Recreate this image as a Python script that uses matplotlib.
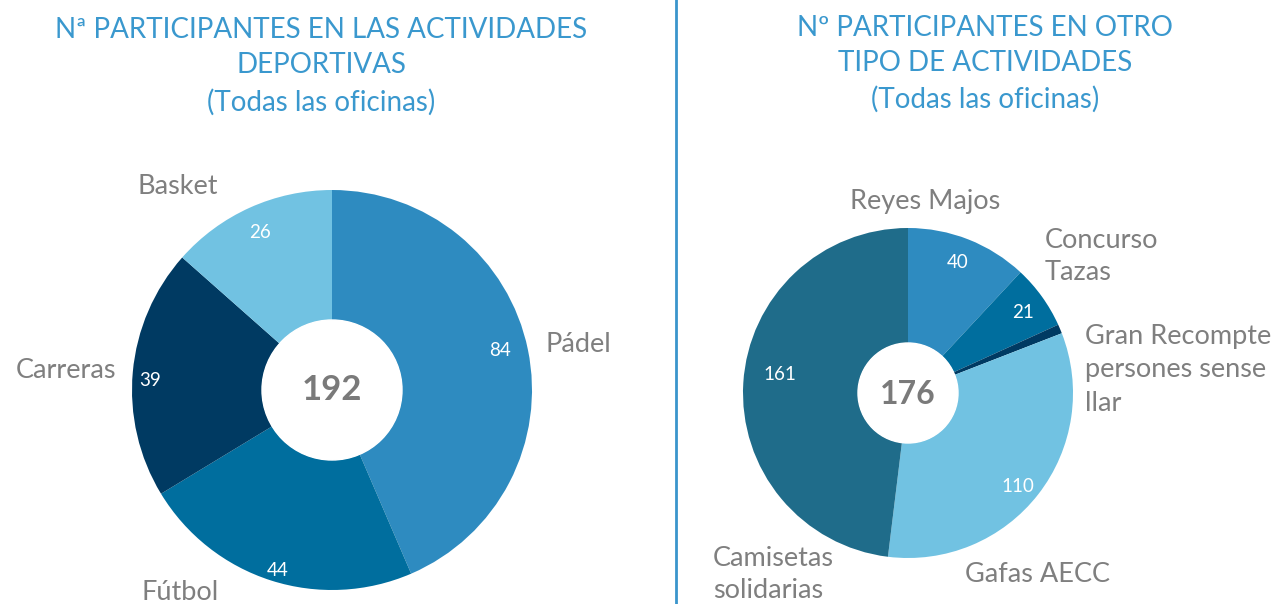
import matplotlib
matplotlib.use("Agg")
import matplotlib.pyplot as plt

plt.rcParams['font.family'] = ['Lato', 'DejaVu Sans']

# data
sport_names = ['Pádel', 'Fútbol', 'Carreras', 'Basket']
sport_values = [84, 44, 39, 26]
sport_total = '192'

other_names = ['Reyes Majos', 'Concurso\nTazas', 'Gran Recompte\npersones sense\nllar', 'Gafas AECC', 'Camisetas\nsolidarias']
other_values = [40, 21, 3, 110, 161]
other_shown = ['40', '21', '', '110', '161']
other_total = '176'

sport_colors = ['#2E8BC0', '#006E9E', '#003A62', '#71C2E2']
other_colors = ['#2E8BC0', '#006E9E', '#003A62', '#71C2E2', '#1F6C8A']

TITLE_C = '#3A98CE'
LABEL_C = '#7F7F7F'
W, H = 1282, 604
LFS = 19.5   # outer label size
VFS = 13.5   # value label size
TFS = 20     # title size

fig = plt.figure(figsize=(W / 100, H / 100), dpi=100)
ax = fig.add_axes([0, 0, 1, 1])

def Y(y):
    return H - y

# left donut
ax.pie(sport_values, colors=sport_colors, startangle=90, counterclock=False,
       center=(332, Y(390)), radius=200, wedgeprops=dict(width=130, linewidth=0),
       frame=True)
ax.add_patch(plt.Circle((332, Y(390)), 70, color='white', zorder=3))
ax.text(332, Y(390), sport_total, ha='center', va='center', fontsize=25,
        fontweight='bold', color='#7A7A7A', zorder=4)

# value labels (left)
left_vals_pos = [(500, 350), (278, 570), (150, 380), (260, 232)]
for v, (x, y) in zip(sport_values, left_vals_pos):
    ax.text(x, Y(y), str(v), ha='center', va='center', fontsize=VFS, color='white')

# outer labels (left)
ax.text(545, Y(344), sport_names[0], ha='left', va='center', fontsize=LFS, color=LABEL_C)
ax.text(180, Y(592), sport_names[1], ha='center', va='center', fontsize=LFS, color=LABEL_C)
ax.text(116, Y(370), sport_names[2], ha='right', va='center', fontsize=LFS, color=LABEL_C)
ax.text(137, Y(186), sport_names[3], ha='left', va='center', fontsize=LFS, color=LABEL_C)

# right donut
ax.pie(other_values, colors=other_colors, startangle=90, counterclock=False,
       center=(908, Y(393)), radius=165, wedgeprops=dict(width=115, linewidth=0),
       frame=True)
ax.add_patch(plt.Circle((908, Y(393)), 50, color='white', zorder=3))
ax.text(908, Y(394), other_total, ha='center', va='center', fontsize=23,
        fontweight='bold', color='#7A7A7A', zorder=4)

right_vals_pos = [(958, 262), (1023, 312), (None, None), (1018, 487), (780, 375)]
for s, (x, y) in zip(other_shown, right_vals_pos):
    if s:
        ax.text(x, Y(y), s, ha='center', va='center', fontsize=VFS, color='white')

ax.text(925, Y(201), other_names[0], ha='center', va='center', fontsize=LFS, color=LABEL_C)
ax.text(1045, Y(257), other_names[1], ha='left', va='center', fontsize=LFS, color=LABEL_C,
        linespacing=1.35)
ax.text(1085, Y(370), other_names[2], ha='left', va='center', fontsize=LFS, color=LABEL_C,
        linespacing=1.42)
ax.text(965, Y(574), other_names[3], ha='left', va='center', fontsize=LFS, color=LABEL_C)
ax.text(713, Y(574), other_names[4], ha='left', va='center', fontsize=LFS, color=LABEL_C,
        linespacing=1.35)

# titles
ax.text(321, Y(30), 'Nª PARTICIPANTES EN LAS ACTIVIDADES', ha='center', va='center',
        fontsize=TFS, color=TITLE_C)
ax.text(321, Y(65), 'DEPORTIVAS', ha='center', va='center', fontsize=TFS, color=TITLE_C)
ax.text(321, Y(102), '(Todas las oficinas)', ha='center', va='center', fontsize=TFS, color=TITLE_C)

ax.text(985, Y(28), 'Nº PARTICIPANTES EN OTRO', ha='center', va='center', fontsize=TFS, color=TITLE_C)
ax.text(985, Y(63), 'TIPO DE ACTIVIDADES', ha='center', va='center', fontsize=TFS, color=TITLE_C)
ax.text(985, Y(99), '(Todas las oficinas)', ha='center', va='center', fontsize=TFS, color=TITLE_C)

# divider
ax.plot([676, 676], [0, H], color='#3A95CC', linewidth=2)

ax.set_xlim(0, W)
ax.set_ylim(0, H)
ax.set_aspect('equal')
ax.axis('off')

fig.savefig('out.png', dpi=100)
